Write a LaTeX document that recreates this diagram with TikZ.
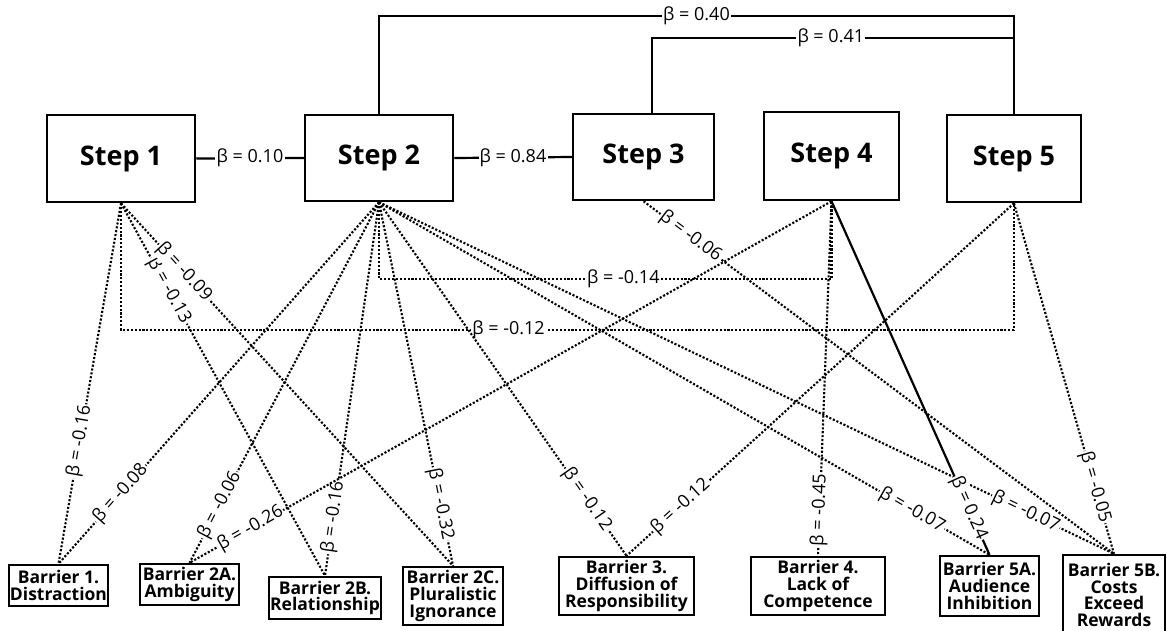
\documentclass[tikz,border=0pt]{standalone}
\usepackage{fontspec}
\setmainfont{Open Sans}
\begin{document}
\begin{tikzpicture}[x=1pt,y=-1pt,
  stepbox/.style={draw, line width=2.5pt, inner sep=0pt, font=\fontsize{27}{30}\selectfont\bfseries},
  barbox/.style={draw, line width=2.4pt, inner sep=0pt, align=center, font=\fontsize{17.5}{16.8}\selectfont\bfseries},
  lab/.style={fill=white, inner sep=1.2pt, font=\fontsize{18}{20}\selectfont},
  dots/.style={line width=2.1pt, dash pattern=on 2.1pt off 1.8pt},
  solidl/.style={line width=2.2pt}]
\useasboundingbox (0,0) rectangle (1167,630);
% steps
\node[stepbox, minimum width=148pt, minimum height=87pt] (S1) at (121,158.5) {Step 1};
\node[stepbox, minimum width=148pt, minimum height=86pt] (S2) at (379,158) {Step 2};
\node[stepbox, minimum width=141pt, minimum height=86pt] (S3) at (643.5,157) {Step 3};
\node[stepbox, minimum width=135pt, minimum height=88pt] (S4) at (831.5,156) {Step 4};
\node[stepbox, minimum width=134pt, minimum height=87pt] (S5) at (1014,158.5) {Step 5};
% barriers
\node[barbox, minimum width=99pt, minimum height=41pt] (B1) at (58.5,585.5) {Barrier 1.\\Distraction};
\node[barbox, minimum width=99pt, minimum height=41pt] (B2A) at (189.5,584.5) {Barrier 2A.\\Ambiguity};
\node[barbox, minimum width=112pt, minimum height=42pt] (B2B) at (325,598) {Barrier 2B.\\Relationship};
\node[barbox, minimum width=99.5pt, minimum height=58pt] (B2C) at (453,596) {Barrier 2C.\\Pluralistic\\Ignorance};
\node[barbox, minimum width=135pt, minimum height=58pt] (B3) at (626.5,586) {Barrier 3.\\Diffusion of\\Responsibility};
\node[barbox, minimum width=134pt, minimum height=58pt] (B4) at (818,586) {Barrier 4.\\Lack of\\Competence};
\node[barbox, minimum width=99pt, minimum height=60pt] (B5A) at (989.5,586) {Barrier 5A.\\Audience\\Inhibition};
\node[barbox, minimum width=102pt, minimum height=80pt] (B5B) at (1114,595) {Barrier 5B.\\Costs\\Exceed\\Rewards};
% helper levels
\coordinate (L40) at (0,16);
\coordinate (L41) at (0,38);
\coordinate (L14) at (0,279);
\coordinate (L12) at (0,330);
\coordinate (S3t) at ([xshift=8.5pt]S3.north);
% dotted brackets
\draw[dots] (S1.south) -- (S1.south |- L12) -- node[lab, pos=0.434] {β = -0.12} (S5.south |- L12) -- (S5.south);
\draw[dots] (S2.south) -- (S2.south |- L14) -- node[lab, pos=0.54] {β = -0.14} (S4.south |- L14) -- (S4.south);
% dotted paths from Step 1
\draw[dots] (S1.south) -- node[lab, sloped, pos=0.66] {β = -0.16} (B1.north);
\draw[dots] (S1.south) -- node[lab, sloped, pos=0.235] {β = -0.13} (B2B.north);
\draw[dots] (S1.south) -- node[lab, sloped, pos=0.19] {β = -0.09} (B2C.north);
% from Step 2
\draw[dots] (S2.south) -- node[lab, sloped, pos=0.806] {β = -0.08} (B1.north);
\draw[dots] (S2.south) -- node[lab, sloped, pos=0.84] {β = -0.06} (B2A.north);
\draw[dots] (S2.south) -- node[lab, sloped, pos=0.843] {β = -0.16} (B2B.north);
\draw[dots] (S2.south) -- node[lab, sloped, pos=0.83] {β = -0.32} (B2C.north);
\draw[dots] (S2.south) -- node[lab, sloped, pos=0.84] {β = -0.12} (B3.north);
\draw[dots] (S2.south) -- node[lab, sloped, pos=0.873] {β = -0.07} (B5A.north);
\draw[dots] (S2.south) -- node[lab, sloped, pos=0.88] {β = -0.07} (B5B.north);
% from Step 3
\draw[dots] (S3.south) -- node[lab, sloped, pos=0.10] {β = -0.06} (B5B.north);
% from Step 4
\draw[dots] (S4.south) -- node[lab, sloped, pos=0.905] {β = -0.26} (B2A.north);
\draw[dots] (S4.south) -- node[lab, sloped, pos=0.87] {β = -0.45} (B4.north);
% from Step 5
\draw[dots] (S5.south) -- node[lab, sloped, pos=0.86] {β = -0.12} (B3.north);
\draw[dots] (S5.south) -- node[lab, sloped, pos=0.81] {β = -0.05} (B5B.north);
% solid paths
\draw[solidl] (S4.south) -- node[lab, sloped, pos=0.868] {β = 0.24} (B5A.north);
\draw[solidl] (S1.east) -- node[lab] {β = 0.10} (S2.west);
\draw[solidl] (S2.east) -- node[lab] {β = 0.84} (S3.west);
\draw[solidl] (S2.north) -- (S2.north |- L40) -- node[lab, pos=0.5] {β = 0.40} (S5.north |- L40) -- (S5.north);
\draw[solidl] (S3t) -- (S3t |- L41) -- node[lab, pos=0.494] {β = 0.41} (S5.north |- L41);
\end{tikzpicture}
\end{document}
